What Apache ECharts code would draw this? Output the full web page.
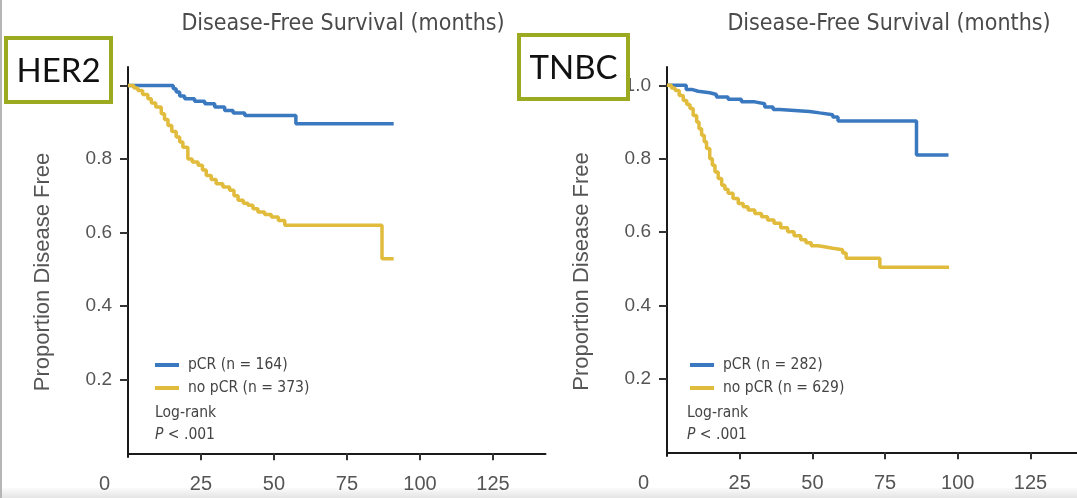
<!DOCTYPE html>
<html>
<head>
<meta charset="utf-8">
<script src="https://cdn.jsdelivr.net/npm/echarts@6/dist/echarts.min.js"></script>
<style>
html, body { margin: 0; padding: 0; background: #fff; }
#main { width: 1077px; height: 498px; }
</style>
</head>
<body>
<div id="main"></div>
<script>
// 曲线数据（从图上读出来的，月份 / 无病生存比例）
var her2PcrMonths = [0, 15.5, 16.5, 17.7, 19.4, 22.8, 26.3, 29.7, 33.1, 36, 40, 57.5, 91];
var her2PcrDfs    = [1, 0.991, 0.982, 0.971, 0.964, 0.957, 0.95, 0.941, 0.932, 0.925, 0.918, 0.896, 0.896];

var her2NoPcrMonths = [0, 2, 3.4, 5, 6.8, 8, 9.5, 11.4, 12.5, 13.7, 15, 16.5, 17.7, 18.8, 20.5, 22, 24, 25.5, 26.8, 28.5,
	30.2, 32.5, 34.8, 36.3, 37.7, 39.5, 41.1, 42.8, 44.5, 46.8, 49.1, 51.5, 53.7, 87, 91];
var her2NoPcrDfs    = [1, 0.993, 0.986, 0.975, 0.964, 0.952, 0.941, 0.923, 0.907, 0.891, 0.875, 0.86, 0.846, 0.832, 0.8, 0.792, 0.783, 0.77, 0.755, 0.744,
	0.733, 0.724, 0.715, 0.7, 0.688, 0.68, 0.674, 0.665, 0.656, 0.649, 0.642, 0.633, 0.62, 0.529, 0.529];

var tnbcPcrMonths = [0, 6.6, 8.5, 10.7, 14.7, 17, 21, 25.6, 30.2, 33.6, 36.5, 38.8, 49, 52.5, 57, 58.8, 85.8, 96.8];
var tnbcPcrDfs    = [1, 0.989, 0.984, 0.98, 0.975, 0.968, 0.962, 0.955, 0.95, 0.941, 0.934, 0.929, 0.925, 0.92, 0.914, 0.903, 0.81, 0.81];

var tnbcNoPcrMonths = [0, 1.5, 2.8, 4.2, 5.6, 6.8, 7.9, 9, 10.2, 11, 11.9, 12.8, 13.6, 14.7, 15.6, 16.5, 17.6, 18.8, 19.9, 21,
	22.7, 24.5, 26.2, 27.9, 30.2, 32.5, 34.6, 36.8, 39.1, 41.5, 43.7, 46, 47.8, 49.6, 51.9, 53.6, 57, 60.4, 61.6, 73.2, 97];
var tnbcNoPcrDfs    = [1, 0.993, 0.986, 0.972, 0.959, 0.948, 0.937, 0.918, 0.9, 0.882, 0.864, 0.846, 0.828, 0.8, 0.782, 0.764, 0.746, 0.728, 0.717, 0.706,
	0.692, 0.678, 0.669, 0.66, 0.651, 0.642, 0.633, 0.624, 0.612, 0.601, 0.59, 0.579, 0.571, 0.563, 0.561, 0.556, 0.552, 0.543, 0.529, 0.504, 0.504];

// 图例名字和刻度
var her2Names = ['pCR (n = 164)', 'no pCR (n = 373)'];
var tnbcNames = ['pCR (n = 282)', 'no pCR (n = 629)'];
var xTicks = [0, 25, 50, 75, 100, 125];
var yTicks = [0.2, 0.4, 0.6, 0.8, 1.0];
var panelTitle = 'Disease-Free Survival (months)';
var yName = 'Proportion Disease Free';

var blue = '#3a79bf';
var yellow = '#e0bb3c';
var narrow = '"Liberation Sans Narrow", "DejaVu Sans Condensed", sans-serif';
var plain = '"Liberation Sans", Arial, sans-serif';

// 把两个数组拼成 [x, y]
function pairs(xs, ys) {
	var out = [];
	for (var i = 0; i < xs.length; i++) {
		out.push([xs[i], ys[i]]);
	}
	return out;
}

function xAxisFor(idx, max) {
	return {
		type: 'value',
		gridIndex: idx,
		min: 0,
		max: max,
		splitLine: { show: false },
		axisLine: { lineStyle: { color: '#1a1a1a', width: 2 } },
		axisTick: { length: 7, customValues: xTicks.slice(1), lineStyle: { color: '#333', width: 2 } },
		axisLabel: {
			customValues: xTicks,
			margin: 17,
			fontSize: 20,
			fontFamily: plain,
			color: '#555',
			// 0 的标签在原图里偏到轴左边去了
			formatter: function (v) { return v === 0 ? '{z|0}' : String(v); },
			rich: { z: { padding: [0, 47, 0, 0], fontSize: 20, fontFamily: plain, color: '#555' } }
		}
	};
}

function yAxisFor(idx) {
	return {
		type: 'value',
		gridIndex: idx,
		min: -0.01,
		max: 1.05,
		splitLine: { show: false },
		axisLine: { lineStyle: { color: '#1a1a1a', width: 2 } },
		axisTick: { length: 8, customValues: yTicks, lineStyle: { color: '#333', width: 2 } },
		axisLabel: {
			customValues: yTicks,
			margin: 16,
			fontSize: 19,
			fontFamily: plain,
			color: '#555',
			formatter: function (v) { return v.toFixed(1); }
		},
		name: yName,
		nameLocation: 'middle',
		nameRotate: 90,
		nameGap: 74,
		nameTextStyle: { fontSize: 22, fontFamily: plain, color: '#555', padding: [0, 20, 0, 0] }
	};
}

function kmSeries(name, data, color, idx) {
	return {
		name: name,
		type: 'line',
		step: 'end',
		xAxisIndex: idx,
		yAxisIndex: idx,
		data: data,
		showSymbol: false,
		symbol: 'none',
		lineStyle: { color: color, width: 3.5 },
		itemStyle: { color: color },
		animation: false
	};
}

function legendFor(names, left) {
	return {
		data: names,
		orient: 'vertical',
		left: left,
		top: 352,
		icon: 'rect',
		itemWidth: 24,
		itemHeight: 4,
		itemGap: 7,
		textStyle: { fontSize: 15.5, fontFamily: narrow, color: '#444', padding: [0, 0, 0, 4] }
	};
}

// 左上角的方框标签
function tagBox(x, y, w, label) {
	return {
		type: 'group',
		z: 100,
		children: [{
			type: 'rect',
			shape: { x: x, y: y, width: w, height: 64 },
			style: { fill: '#fff', stroke: '#9caa22', lineWidth: 4 },
			z: 100
		}, {
			type: 'text',
			x: x + w / 2,
			y: y + 33,
			style: { text: label, fontSize: 33, fontFamily: 'Lato, "Open Sans", sans-serif', fill: '#111', align: 'center', verticalAlign: 'middle' },
			z: 101
		}]
	};
}

function logRank(x) {
	return {
		type: 'text',
		x: x,
		y: 402,
		z: 50,
		style: {
			text: 'Log-rank\n{i|P} < .001',
			fontSize: 15.5,
			fontFamily: narrow,
			fill: '#444',
			lineHeight: 22,
			rich: { i: { fontStyle: 'italic', fontSize: 15.5, fontFamily: narrow, fill: '#444' } }
		}
	};
}

var myChart = echarts.init(document.getElementById('main'), null, { renderer: 'canvas' });

var option = {
	backgroundColor: '#fff',
	animation: false,
	title: [{
		text: panelTitle, left: 338, top: 8, textAlign: 'center',
		textStyle: { fontSize: 23, fontWeight: 'normal', fontFamily: narrow, color: '#4a4a4a' }
	}, {
		text: panelTitle, left: 884, top: 8, textAlign: 'center',
		textStyle: { fontSize: 23, fontWeight: 'normal', fontFamily: narrow, color: '#4a4a4a' }
	}],
	grid: [
		{ left: 128, top: 67, width: 417.5, height: 390 },
		{ left: 667, top: 67, width: 411, height: 389 }
	],
	xAxis: [xAxisFor(0, 143), xAxisFor(1, 141)],
	yAxis: [yAxisFor(0), yAxisFor(1)],
	legend: [legendFor(her2Names, 150), legendFor(tnbcNames, 685)],
	series: [
		kmSeries(her2Names[0], pairs(her2PcrMonths, her2PcrDfs), blue, 0),
		kmSeries(her2Names[1], pairs(her2NoPcrMonths, her2NoPcrDfs), yellow, 0),
		kmSeries(tnbcNames[0], pairs(tnbcPcrMonths, tnbcPcrDfs), blue, 1),
		kmSeries(tnbcNames[1], pairs(tnbcNoPcrMonths, tnbcNoPcrDfs), yellow, 1)
	],
	graphic: [
		tagBox(6, 38, 105, 'HER2'),
		tagBox(519, 35, 109, 'TNBC'),
		logRank(155),
		logRank(687),
		// 原图边上的灰边
		{ type: 'rect', z: 0, shape: { x: 0, y: 0, width: 2, height: 498 }, style: { fill: '#b5b5b5' } },
		{
			type: 'rect', z: -1, shape: { x: 0, y: 488, width: 1077, height: 10 },
			style: { fill: new echarts.graphic.LinearGradient(0, 0, 0, 1, [{ offset: 0, color: '#fbfbfb' }, { offset: 1, color: '#e4e4e4' }]) }
		}
	]
};

myChart.setOption(option);
</script>
</body>
</html>
